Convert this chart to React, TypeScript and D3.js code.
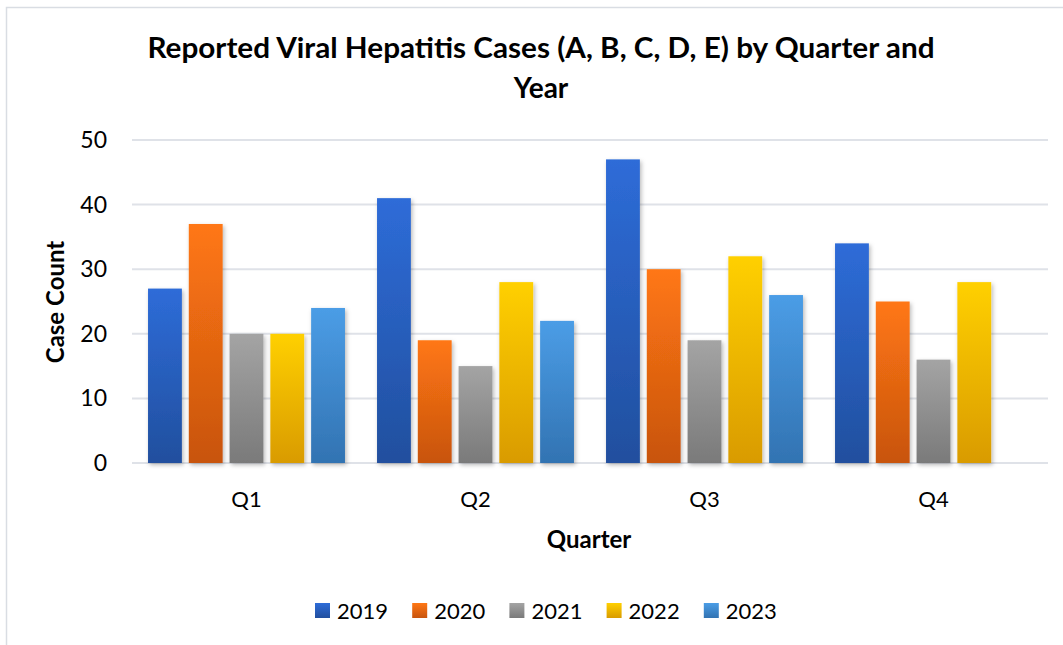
import React from "react";
import * as d3 from "d3";

const quarters = ["Q1", "Q2", "Q3", "Q4"];
const years = ["2019", "2020", "2021", "2022", "2023"];
const values2019 = [27, 41, 47, 34];
const values2020 = [37, 19, 30, 25];
const values2021 = [20, 15, 19, 16];
const values2022 = [20, 28, 32, 28];
const values2023: (number | null)[] = [24, 22, 26, null];
const yTicks = [0, 10, 20, 30, 40, 50];
const titleLines = ["Reported Viral Hepatitis Cases (A, B, C, D, E) by Quarter and", "Year"];

const seriesValues = [values2019, values2020, values2021, values2022, values2023];
const colorsTop = ["#2e6cd8", "#ff7714", "#a4a4a4", "#ffd000", "#4b9de6"];
const colorsBottom = ["#214f9e", "#c8540e", "#7a7a7a", "#d99b00", "#3273b2"];

const W = 1063;
const H = 645;
const FONT = "Lato, 'Open Sans', sans-serif";

export default function App() {
  const x0 = d3.scaleBand<string>().domain(quarters).range([132, 1048]).paddingInner(0.14).paddingOuter(0.07);
  const x1 = d3.scaleBand<string>().domain(years).range([0, x0.bandwidth()]).paddingInner(0.17).paddingOuter(0);
  const y = d3.scaleLinear().domain([0, 50]).range([463, 140]);

  return (
    <svg width={W} height={H} style={{ position: "absolute", left: 0, top: 0, background: "#fff" }} fontFamily={FONT}>
      <defs>
        {years.map((yr, i) => (
          <linearGradient key={yr} id={`g${i}`} x1="0" y1="0" x2="0" y2="1">
            <stop offset="0%" stopColor={colorsTop[i]} />
            <stop offset="100%" stopColor={colorsBottom[i]} />
          </linearGradient>
        ))}
        <filter id="shadow" x="-20%" y="-20%" width="140%" height="140%">
          <feDropShadow dx="1.5" dy="2" stdDeviation="2" floodColor="#000" floodOpacity="0.28" />
        </filter>
      </defs>
      <rect x={6.5} y={7.5} width={1200} height={800} fill="#fff" stroke="#d9dde3" strokeWidth={1.5} />
      {titleLines.map((t, i) => (
        <text
          key={i}
          x={541}
          y={58 + i * 40}
          textAnchor="middle"
          fontSize={28}
          fontWeight="bold"
          fill="#000"
          {...(i === 0 ? { textLength: 787, lengthAdjust: "spacingAndGlyphs" } : {})}
        >
          {t}
        </text>
      ))}
      {yTicks.map((t) => (
        <g key={t}>
          <line x1={132} x2={1048} y1={y(t)} y2={y(t)} stroke="#dfe2e8" strokeWidth={2} />
          <text x={107} y={y(t) + 8} textAnchor="end" fontSize={23} fill="#000">
            {t}
          </text>
        </g>
      ))}
      {quarters.map((q, qi) => (
        <g key={q} transform={`translate(${x0(q)},0)`}>
          {years.map((yr, si) => {
            const v = seriesValues[si][qi];
            if (v == null) return null;
            return (
              <rect
                key={yr}
                x={x1(yr)}
                y={y(v)}
                width={x1.bandwidth()}
                height={y(0) - y(v)}
                fill={`url(#g${si})`}
                filter="url(#shadow)"
              />
            );
          })}
          <text x={x0.bandwidth() / 2} y={507} textAnchor="middle" fontSize={22} fill="#000">
            {q}
          </text>
        </g>
      ))}
      <text transform={`translate(64,302) rotate(-90)`} textAnchor="middle" fontSize={24} fontWeight="bold" fill="#000">
        Case Count
      </text>
      <text x={589} y={548} textAnchor="middle" fontSize={24} fontWeight="bold" fill="#000">
        Quarter
      </text>
      {years.map((yr, i) => (
        <g key={yr} transform={`translate(${315 + i * 97.2},0)`}>
          <rect x={0} y={603} width={15} height={15} fill={`url(#g${i})`} />
          <text x={22} y={619} fontSize={22} fill="#000">
            {yr}
          </text>
        </g>
      ))}
    </svg>
  );
}
